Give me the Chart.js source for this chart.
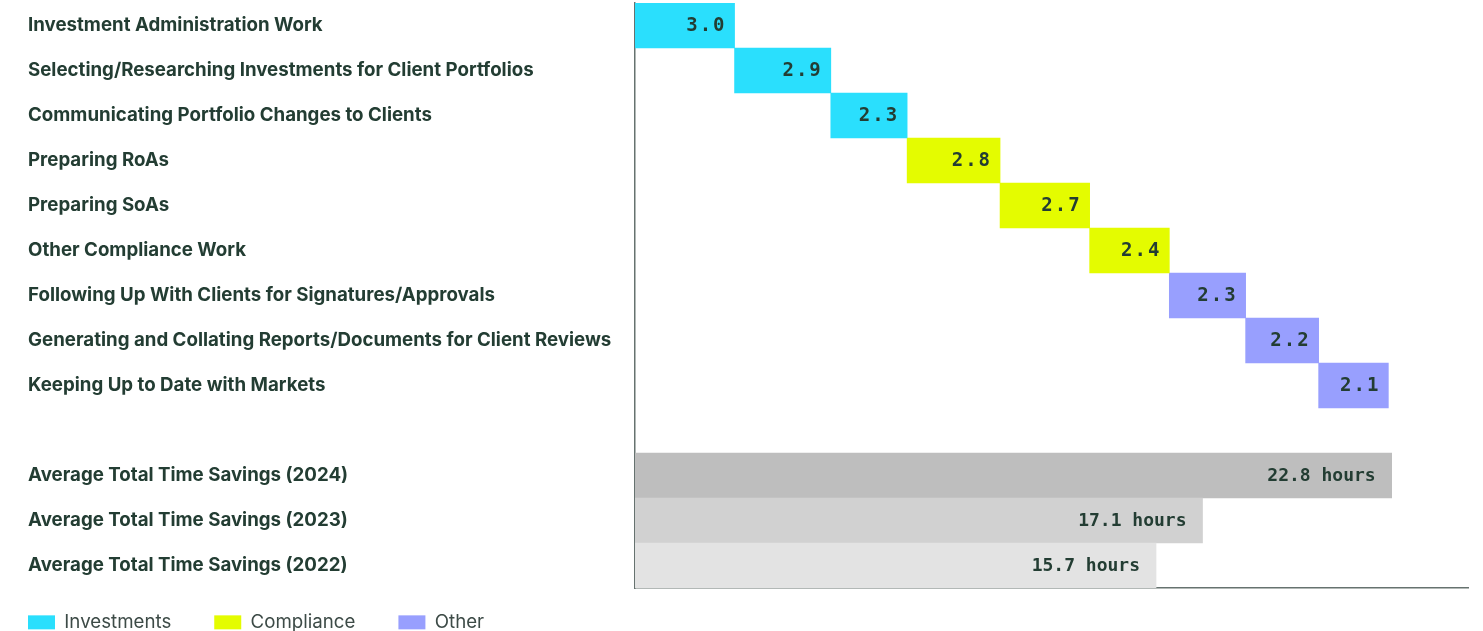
<!DOCTYPE html>
<html>
<head>
<meta charset="utf-8">
<script src="https://cdn.jsdelivr.net/npm/chart.js@4/dist/chart.umd.min.js"></script>
<style>
html, body { margin: 0; padding: 0; background: #fff; }
#wrap { width: 1483px; height: 631px; position: relative; }
</style>
</head>
<body>
<div id="wrap"><canvas id="myChart"></canvas></div>
<script>
// task rows (waterfall), in order top to bottom
var taskLabels = [
  "Investment Administration Work",
  "Selecting/Researching Investments for Client Portfolios",
  "Communicating Portfolio Changes to Clients",
  "Preparing RoAs",
  "Preparing SoAs",
  "Other Compliance Work",
  "Following Up With Clients for Signatures/Approvals",
  "Generating and Collating Reports/Documents for Client Reviews",
  "Keeping Up to Date with Markets"
];
var taskHours = [3.0, 2.9, 2.3, 2.8, 2.7, 2.4, 2.3, 2.2, 2.1];
var taskGroup = ["Investments", "Investments", "Investments",
                 "Compliance", "Compliance", "Compliance",
                 "Other", "Other", "Other"];

// yearly totals
var totalLabels = [
  "Average Total Time Savings (2024)",
  "Average Total Time Savings (2023)",
  "Average Total Time Savings (2022)"
];
var totalHours = [22.8, 17.1, 15.7];

var groupNames = ["Investments", "Compliance", "Other"];
var groupColors = ["#2adffd", "#e4fc00", "#989ffe"];
var totalColors = ["#bebebe", "#d1d1d1", "#e3e3e3"];

var textColor = "#233d33";
var axisColor = "#66726f";

// one blank row between tasks and totals
var labels = taskLabels.concat([""], totalLabels);

// floating ranges: each task starts where the previous one ended
var starts = [];
var run = 0;
taskHours.forEach(function (h) { starts.push(run); run += h; });

var datasets = groupNames.map(function (g, gi) {
  return {
    label: g,
    data: labels.map(function (_, i) {
      if (i < taskLabels.length && taskGroup[i] === g) {
        return [starts[i], starts[i] + taskHours[i]];
      }
      return null;
    }),
    backgroundColor: groupColors[gi],
    isTotal: false
  };
});
datasets.push({
  label: "Totals",
  data: labels.map(function (_, i) {
    var k = i - taskLabels.length - 1;
    return k >= 0 ? [0, totalHours[k]] : null;
  }),
  backgroundColor: labels.map(function (_, i) {
    var k = i - taskLabels.length - 1;
    return k >= 0 ? totalColors[k] : "transparent";
  }),
  isTotal: true
});

/* write the value at the right end of each bar */
var valueLabels = {
  id: "valueLabels",
  afterDatasetsDraw: function (chart) {
    var ctx = chart.ctx;
    ctx.save();
    ctx.fillStyle = textColor;
    ctx.textAlign = "right";
    ctx.textBaseline = "middle";
    chart.data.datasets.forEach(function (ds, di) {
      var meta = chart.getDatasetMeta(di);
      meta.data.forEach(function (bar, i) {
        var v = ds.data[i];
        if (!v) return;
        var n = (v[1] - v[0]).toFixed(1);
        if (ds.isTotal) {
          ctx.letterSpacing = "0px";
          ctx.font = "bold 18px 'DejaVu Sans Mono'";
          ctx.fillText(n + " hours", bar.x - 16, bar.y + 1);
        } else {
          ctx.letterSpacing = "2px";
          ctx.font = "bold 19px 'DejaVu Sans Mono'";
          ctx.fillText(n, bar.x - 8, bar.y + 1);
        }
      });
    });
    ctx.restore();
  }
};

/* legend sits at the left edge, wide gaps between items */
var legendShift = {
  id: "legendShift",
  afterLayout: function (chart) {
    var lg = chart.legend;
    var p = chart.options.plugins.legend.labels.padding;
    lg.left = 28 - p;
    lg.right = 1483;
    lg.width = lg.right - lg.left;
    lg.top = 613 - p;
    lg.height = 80;
    lg.bottom = lg.top + lg.height;
  }
};

var ctx = document.getElementById("myChart").getContext("2d");
var myChart = new Chart(ctx, {
  type: "bar",
  data: { labels: labels, datasets: datasets },
  options: {
    indexAxis: "y",
    responsive: true,
    maintainAspectRatio: false,
    animation: false,
    barPercentage: 1,
    categoryPercentage: 1,
    borderWidth: 0,
    borderSkipped: false,
    layout: { padding: { left: 28, right: 15, top: 3, bottom: 0 } },
    scales: {
      x: {
        min: 0,
        max: 25.1,
        grid: { display: false, drawTicks: false },
        ticks: { display: false },
        border: { display: true, color: axisColor, width: 1.5 }
      },
      y: {
        stacked: true,
        grid: { display: false, drawTicks: false },
        border: { display: true, color: axisColor, width: 1.5 },
        ticks: {
          crossAlign: "far",
          color: textColor,
          font: { family: "Inter", weight: "700", size: 18.7 }
        },
        afterFit: function (scale) {
          scale.width = 607;
          scale.paddingTop = 0;
          scale.paddingBottom = 0;
        }
      }
    },
    plugins: {
      tooltip: { enabled: false },
      legend: {
        position: "bottom",
        align: "start",
        maxHeight: 43,
        labels: {
          boxWidth: 27,
          boxHeight: 14,
          padding: 43,
          color: "#3d4b47",
          font: { family: "Inter", size: 18.7 },
          filter: function (item) { return item.datasetIndex < 3; }
        }
      }
    }
  },
  plugins: [valueLabels, legendShift]
});
</script>
</body>
</html>
